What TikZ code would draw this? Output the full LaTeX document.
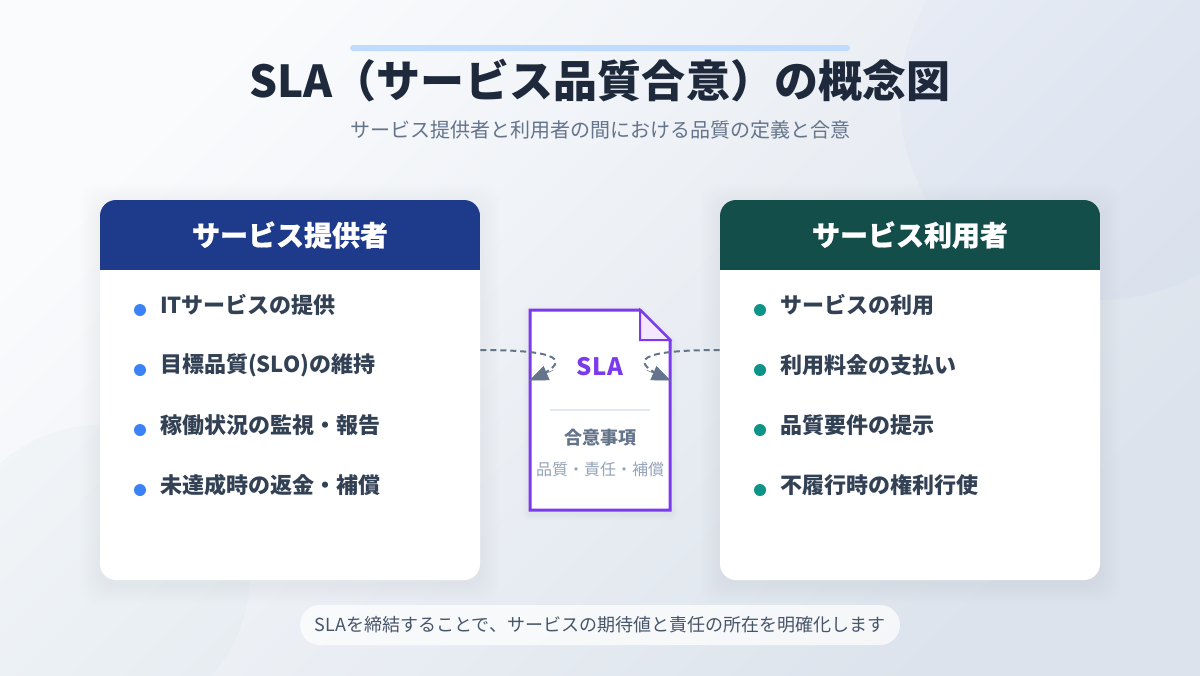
\documentclass[tikz,border=0pt]{standalone}
\usepackage{fontspec}
\setmainfont{Noto Sans CJK JP}
\usetikzlibrary{arrows.meta}
\definecolor{bgA}{HTML}{FAFBFD}
\definecolor{bgB}{HTML}{DCE3EC}
\definecolor{ink}{HTML}{1E293B}
\definecolor{slateA}{HTML}{64748B}
\definecolor{slateB}{HTML}{334155}
\definecolor{slateC}{HTML}{94A3B8}
\definecolor{slateD}{HTML}{475569}
\definecolor{barblue}{HTML}{BFDBFE}
\definecolor{provhead}{HTML}{1E3A8A}
\definecolor{userhead}{HTML}{134E4A}
\definecolor{provdot}{HTML}{3B82F6}
\definecolor{userdot}{HTML}{0D9488}
\definecolor{violet}{HTML}{7C3AED}
\definecolor{foldfill}{HTML}{F3E8FF}
\definecolor{rulegray}{HTML}{E2E8F0}
\newcommand{\pxfont}[1]{\fontsize{#1}{#1}\selectfont}
\tikzset{
  x=0.75pt,y=-0.75pt,
  lbl/.style={inner sep=0pt,outer sep=0pt,anchor=center},
  item/.style={lbl,anchor=west,font=\pxfont{16.5}\bfseries,text=slateB},
  headtxt/.style={lbl,font=\pxfont{21}\bfseries\addfontfeature{FakeBold=0.6},text=white},
  provbullet/.style={circle,fill=provdot,inner sep=0pt,minimum size=9pt},
  userbullet/.style={circle,fill=userdot,inner sep=0pt,minimum size=9pt},
  cardbox/.style={rectangle,rounded corners=12pt,fill=white,minimum width=285pt,minimum height=285pt,inner sep=0pt},
  flow/.style={draw=slateA,line width=1.5pt,dash pattern=on 4.5pt off 3pt},
  flowtip/.style={draw=slateA,line width=0.4pt,-{Triangle[length=14pt,width=11.5pt,fill=slateA]}},
}
\begin{document}
\begin{tikzpicture}
\useasboundingbox (0,0) rectangle (1200,675);
\begin{scope}
\clip (0,0) rectangle (1200,675);
\shade[bottom color=bgA,top color=bgB,shading angle=-135] (0,0) rectangle (1200,675);
\fill[blue!70!cyan,opacity=0.02] (1100,100) circle[radius=200];
\fill[teal,opacity=0.02] (100,575) circle[radius=150];
\end{scope}
% card shadows
\foreach \cx in {290,910}{
  \foreach \g in {2,4,...,20}{
    \fill[black,opacity=0.005,rounded corners=12pt] (\cx-190-\g,200+4-\g) rectangle (\cx+190+\g,580+4+\g);
  }
}
\foreach \g in {3,6,...,15}{
  \draw[black,opacity=0.006,line width=\g*0.75pt,line join=round] (530,313) -- (640,313) -- (670,343) -- (670,513) -- (530,513) -- cycle;
}
% title
\fill[barblue,rounded corners=2.25pt] (350,45) rectangle (850,51);
\node[lbl,font=\pxfont{33}\bfseries\addfontfeature{LetterSpace=0.4},text=ink] (title) at (600,81) {SLA（サービス品質合意）の概念図};
\node[lbl,font=\pxfont{15},text=slateA] (subtitle) at (600,130) {サービス提供者と利用者の間における品質の定義と合意};
% provider card
\node[cardbox] (provCard) at (290,390) {};
\begin{scope}
\clip[rounded corners=12pt] (100,200) rectangle (480,580);
\fill[provhead] (100,200) rectangle (480,270);
\end{scope}
\node[headtxt] (provHead) at (290,235) {サービス提供者};
\node[provbullet] (pb1) at (140,310) {};
\node[provbullet] (pb2) at (140,370) {};
\node[provbullet] (pb3) at (140,430) {};
\node[provbullet] (pb4) at (140,490) {};
\node[item] (pt1) at (160,305) {ITサービスの提供};
\node[item] (pt2) at (160,365) {目標品質(SLO)の維持};
\node[item] (pt3) at (160,425) {稼働状況の監視・報告};
\node[item] (pt4) at (160,485) {未達成時の返金・補償};
% user card
\node[cardbox] (userCard) at (910,390) {};
\begin{scope}
\clip[rounded corners=12pt] (720,200) rectangle (1100,580);
\fill[userhead] (720,200) rectangle (1100,270);
\end{scope}
\node[headtxt] (userHead) at (910,235) {サービス利用者};
\node[userbullet] (ub1) at (760,310) {};
\node[userbullet] (ub2) at (760,370) {};
\node[userbullet] (ub3) at (760,430) {};
\node[userbullet] (ub4) at (760,490) {};
\node[item] (ut1) at (780,305) {サービスの利用};
\node[item] (ut2) at (780,365) {利用料金の支払い};
\node[item] (ut3) at (780,425) {品質要件の提示};
\node[item] (ut4) at (780,485) {不履行時の権利行使};
% document
\draw[violet,line width=2.25pt,fill=white,line join=miter] (530,310) -- (640,310) -- (670,340) -- (670,510) -- (530,510) -- cycle;
\draw[violet,line width=1.5pt,fill=foldfill,line join=miter] (640,310) -- (640,340) -- (670,340) -- cycle;
\node[lbl,font=\pxfont{18}\bfseries\addfontfeature{LetterSpace=2},text=violet] (slaLabel) at (600,367) {SLA};
\draw[rulegray,line width=1.5pt] (550,410) -- (650,410);
\node[lbl,font=\pxfont{13.5}\bfseries,text=slateA] (agreeLabel) at (600,438) {合意事項};
\node[lbl,font=\pxfont{12},text=slateC] (agreeItems) at (600,469) {品質・責任・補償};
% connectors
\coordinate (provEdge) at (provCard.east |- 0,350);
\coordinate (userEdge) at (userCard.west |- 0,350);
\coordinate (docL) at (529.5,380.5);
\coordinate (docR) at (670.5,380.5);
\coordinate (tipL) at (553.3,370.2);
\coordinate (tipR) at (646.7,370.2);
\draw[flow] (provEdge) .. controls (560,350) and (576.67,360) .. (docL);
\draw[flow] (userEdge) .. controls (640,350) and (623.33,360) .. (docR);
\draw[flowtip] (tipL) -- (docL);
\draw[flowtip] (tipR) -- (docR);
% footer
\node[rectangle,rounded corners=15pt,fill=white,fill opacity=0.7,minimum width=450pt,minimum height=30pt,inner sep=0pt] (pill) at (600,625) {};
\node[lbl,font=\pxfont{13.5},text=slateD] (note) at (600,625) {SLAを締結することで、サービスの期待値と責任の所在を明確化します};
\end{tikzpicture}
\end{document}
